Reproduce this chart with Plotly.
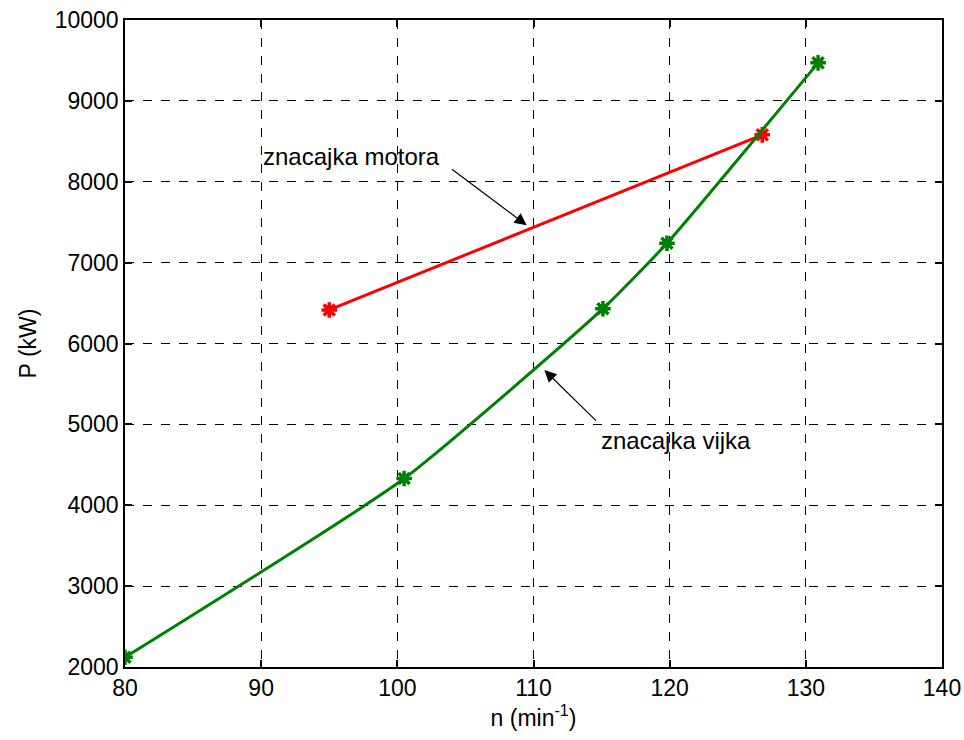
import plotly.graph_objects as go

# Data
vijka_n = [80.0, 100.5, 115.1, 119.8, 130.9]
vijka_P = [2120, 4330, 6430, 7240, 9470]
motor_n = [95.0, 126.8]
motor_P = [6415, 8580]
x_ticks = [80, 90, 100, 110, 120, 130, 140]
y_ticks = [2000, 3000, 4000, 5000, 6000, 7000, 8000, 9000, 10000]

FONT = "Liberation Sans, Arial, sans-serif"

fig = go.Figure()
fig.add_trace(go.Scatter(
    x=motor_n, y=motor_P, mode="lines+markers",
    line=dict(color="#ff0000", width=3),
    marker=dict(symbol="asterisk-open", size=13, color="#ff0000",
                line=dict(color="#ff0000", width=3.5)),
    showlegend=False))
fig.add_trace(go.Scatter(
    x=vijka_n, y=vijka_P, mode="lines+markers",
    line=dict(color="#008000", width=3, shape="spline", smoothing=0.5),
    marker=dict(symbol="asterisk-open", size=13, color="#008000",
                line=dict(color="#008000", width=3.5)),
    showlegend=False))

axis_common = dict(
    showline=True, linecolor="black", linewidth=1.5, mirror="ticks",
    ticks="inside", ticklen=7, tickcolor="black", tickwidth=1.5,
    showgrid=True, gridcolor="black", griddash="dash", gridwidth=1,
    zeroline=False, automargin=False, ticklabeloverflow="allow",
    tickfont=dict(family=FONT, size=23, color="black"),
)

fig.update_xaxes(range=[80, 140], tickvals=x_ticks,
                 ticktext=[str(v) for v in x_ticks],
                 title=dict(text="n (min<sup>-1</sup>)",
                            font=dict(family=FONT, size=23, color="black"),
                            standoff=6),
                 **axis_common)
fig.update_yaxes(range=[2000, 10000], tickvals=y_ticks,
                 ticktext=[str(v) for v in y_ticks],
                 title=dict(text="P (kW)",
                            font=dict(family=FONT, size=23, color="black"),
                            standoff=12),
                 **axis_common)

# arrows
fig.add_annotation(x=109.5, y=7463, ax=103.9, ay=8168, xref="x", yref="y",
                   axref="x", ayref="y", text="", showarrow=True,
                   arrowhead=2, arrowsize=2, arrowwidth=1.2, arrowcolor="black")
fig.add_annotation(x=110.8, y=5671, ax=114.7, ay=5028, xref="x", yref="y",
                   axref="x", ayref="y", text="", showarrow=True,
                   arrowhead=2, arrowsize=2, arrowwidth=1.2, arrowcolor="black")
fig.add_annotation(x=96.6, y=8317, xref="x", yref="y", text="znacajka motora",
                   showarrow=False, font=dict(family=FONT, size=24, color="black"))
fig.add_annotation(x=120.5, y=4806, xref="x", yref="y", text="znacajka vijka",
                   showarrow=False, font=dict(family=FONT, size=24, color="black"))

fig.update_layout(
    width=964, height=740,
    margin=dict(l=125, r=22, t=20, b=73),
    paper_bgcolor="white", plot_bgcolor="white",
)

fig.write_html("out.html",
               config={"displayModeBar": False},
               post_script="document.body.style.margin='0';"
                           "document.body.style.overflow='hidden';")
